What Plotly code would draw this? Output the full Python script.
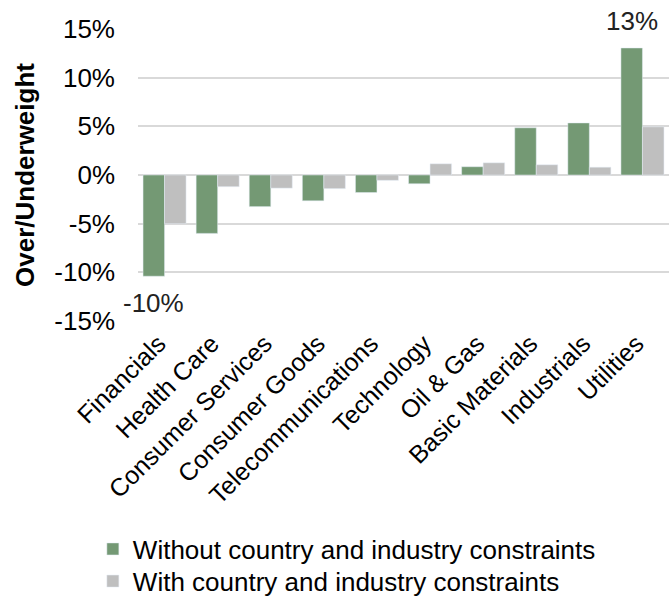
import plotly.graph_objects as go

sectors = ["Financials", "Health Care", "Consumer Services", "Consumer Goods",
           "Telecommunications", "Technology", "Oil & Gas", "Basic Materials",
           "Industrials", "Utilities"]
without_constraints = [-10.4, -6.0, -3.25, -2.65, -1.8, -0.9, 0.85, 4.85, 5.35, 13.05]
with_constraints = [-5.0, -1.2, -1.35, -1.4, -0.55, 1.15, 1.25, 1.05, 0.8, 4.95]
y_ticks = [-15, -10, -5, 0, 5, 10, 15]

green = "rgb(116,153,116)"
grey = "rgb(191,191,191)"
font = "Liberation Sans, Arial, sans-serif"

fig = go.Figure()
fig.add_trace(go.Bar(x=sectors, y=without_constraints, name="Without country and industry constraints",
                     marker_color=green, legend="legend"))
fig.add_trace(go.Bar(x=sectors, y=with_constraints, name="With country and industry constraints",
                     marker_color=grey, legend="legend2"))

# labels only on the extremes of the unconstrained series
lo = without_constraints.index(min(without_constraints))
hi = without_constraints.index(max(without_constraints))
for i, shift in [(lo, -27), (hi, 27)]:
    fig.add_annotation(x=i - 0.2, y=without_constraints[i], text=f"{round(without_constraints[i])}%",
                       showarrow=False, yshift=shift, font=dict(size=26, color="#222"))

# one legend per row so the row spacing can follow the original
leg = dict(orientation="v", x=-0.085, xanchor="left", yanchor="middle",
           font=dict(size=26), itemwidth=30, bgcolor="rgba(0,0,0,0)")
fig.update_layout(
    width=669, height=596,
    margin=dict(l=138, r=0, t=29, b=275, autoexpand=False),
    paper_bgcolor="white", plot_bgcolor="white",
    barmode="group", bargap=0.19, bargroupgap=0,
    font=dict(family=font, color="black"),
    legend=dict(leg, y=-0.781),
    legend2=dict(leg, y=-0.891),
    showlegend=True,
)
fig.update_yaxes(range=[-15, 15], tickvals=y_ticks, ticktext=[f"{v}%" for v in y_ticks],
                 showgrid=True, gridcolor="#d9d9d9", gridwidth=1.5,
                 zeroline=True, zerolinecolor="#d9d9d9", zerolinewidth=1.5,
                 showline=False, tickfont=dict(size=26), ticklabelstandoff=22, automargin=False,
                 title=dict(text="<b>Over/Underweight</b>", font=dict(size=26), standoff=12))
fig.update_xaxes(range=[-0.5, len(sectors) - 0.5], tickangle=-45, tickfont=dict(size=25),
                 ticklabelstandoff=2, ticklabelshift=-6,
                 showline=False, showgrid=False, automargin=False)
fig.update_annotations(font_family=font)

fig.write_html("out.html", config={"displayModeBar": False},
               post_script="document.body.style.margin='0';")
